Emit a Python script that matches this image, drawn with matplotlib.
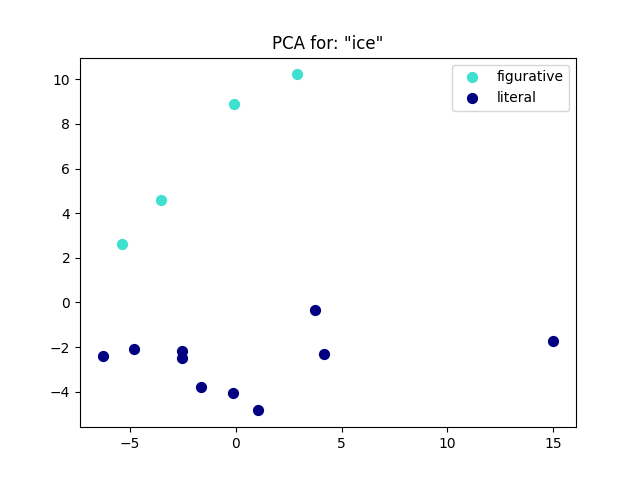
import matplotlib
matplotlib.use('Agg')
import matplotlib.pyplot as plt

word    = 'ice'
classes = ['figurative', 'literal']
colors  = ['turquoise', 'navy']

fig_x = [2.89, -0.09, -3.55, -5.40]
fig_y = [10.22, 8.88, 4.57, 2.60]

lit_x = [3.74, 4.17, 15.02, -6.30, -4.79, -2.56, -2.56, -1.66, -0.14, 1.04]
lit_y = [-0.36, -2.33, -1.75, -2.38, -2.11, -2.20, -2.51, -3.77, -4.08, -4.84]

points = {'figurative': (fig_x, fig_y), 'literal': (lit_x, lit_y)}

fig, ax = plt.subplots(figsize=(6.4, 4.8), dpi=100)
for name, col in zip(classes, colors):
    xs, ys = points[name]
    ax.scatter(xs, ys, color=col, s=50, label=name)

ax.legend(loc='best')
ax.set_title(f'PCA for: "{word}"')
plt.savefig('out.png')
plt.close()
